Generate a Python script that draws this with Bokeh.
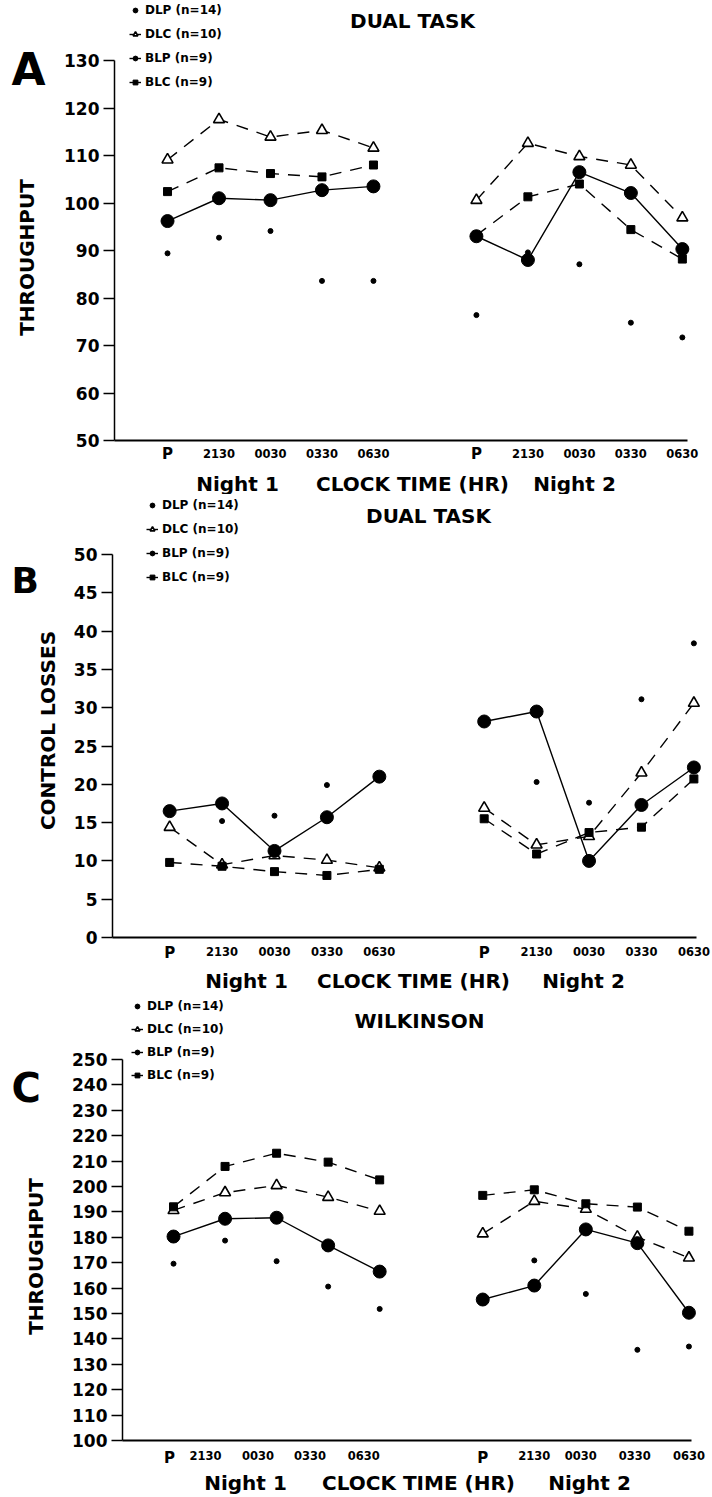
import math
from bokeh.plotting import figure
from bokeh.layouts import column
from bokeh.models import Range1d, FixedTicker, Label, Legend, LegendItem, LinearAxis
from bokeh.embed import file_html
from bokeh.resources import INLINE

NAN = float("nan")

# ---------------- data ----------------
TIME_LABELS = ["P", "2130", "0030", "0330", "0630"]
NIGHT_LABELS = ["Night 1", "CLOCK TIME (HR)", "Night 2"]
X_POS = [0, 1, 2, 3, 4, 6, 7, 8, 9, 10]  # session slots, 5 = gap between nights
SERIES = ["DLP (n=14)", "DLC (n=10)", "BLP (n=9)", "BLC (n=9)"]

A_DLP = [89.4, 92.7, 94.1, 83.6, 83.6, 76.4, 89.6, 87.1, 74.8, 71.7]
A_DLC = [109.1, 117.6, 113.9, 115.3, 111.6, 100.6, 112.6, 109.8, 108.0, 96.9]
A_BLP = [96.2, 101.0, 100.6, 102.7, 103.5, 93.0, 88.0, 106.5, 102.1, 90.3]
A_BLC = [102.4, 107.4, 106.2, 105.5, 108.0, 93.2, 101.3, 104.0, 94.4, 88.2]

B_DLP = [16.8, 15.2, 15.9, 19.9, 21.3, 28.4, 20.3, 17.6, 31.1, 38.4]
B_DLC = [14.4, 9.5, 10.7, 10.1, 9.1, 16.9, 12.1, 13.2, 21.5, 30.6]
B_BLP = [16.5, 17.5, 11.3, 15.7, 21.0, 28.2, 29.5, 10.0, 17.3, 22.2]
B_BLC = [9.8, 9.3, 8.6, 8.1, 8.9, 15.5, 10.9, 13.7, 14.4, 20.7]

C_DLP = [169.6, 178.7, 170.6, 160.6, 151.8, 155.3, 170.9, 157.7, 135.7, 137.0]
C_DLC = [190.6, 197.6, 200.4, 195.8, 190.3, 181.4, 194.2, 191.1, 180.1, 171.9]
C_BLP = [180.3, 187.3, 187.7, 176.8, 166.5, 155.5, 161.0, 183.1, 177.7, 150.3]
C_BLC = [192.0, 207.9, 213.1, 209.6, 202.6, 196.5, 198.7, 193.2, 191.9, 182.4]

FONT = "DejaVu Sans"
W = 712


def broken(vals):
    return vals[:5] + [NAN] + vals[5:]


def make_panel(cfg):
    fr = cfg["frame"]
    ft = cfg["fig_top"]
    H = cfg["height"]
    ax0, ax1 = cfg["xr"]
    ay0, ay1 = cfg["yr"]
    sx = (fr["right"] - fr["left"]) / (ax1 - ax0)
    sy = (fr["bottom"] - fr["top"]) / (ay1 - ay0)
    xs = ax0 - fr["left"] / sx
    xe = xs + W / sx
    ye = ay1 + (fr["top"] - ft) / sy
    ys = ye - H / sy

    def X(px):
        return xs + px / sx

    def Y(py):
        return ye - (py - ft) / sy

    p = figure(width=W, height=H, x_range=Range1d(xs, xe), y_range=Range1d(ys, ye),
               x_axis_location=None, y_axis_location=None, min_border=0,
               output_backend="svg", toolbar_location=None)
    p.title.visible = False
    p.outline_line_color = None
    p.xgrid.visible = False
    p.ygrid.visible = False
    p.background_fill_color = "white"
    p.border_fill_color = "white"

    dlp, dlc, blp, blc = cfg["data"]
    xl = broken(X_POS)
    dash = "12 9"
    l_dlc = p.line(xl, broken(dlc), line_color="black", line_width=1.4, line_dash=dash)
    l_blc = p.line(xl, broken(blc), line_color="black", line_width=1.4, line_dash=dash)
    l_blp = p.line(xl, broken(blp), line_color="black", line_width=1.4)
    s_dlc = p.scatter(X_POS, dlc, marker="triangle", size=11, fill_color="white",
                      line_color="black", line_width=1.6)
    s_blc = p.scatter(X_POS, blc, marker="square", size=8, fill_color="black",
                      line_color="black")
    s_blp = p.scatter(X_POS, blp, marker="circle", size=13, fill_color="black",
                      line_color="black")
    s_dlp = p.scatter(X_POS, dlp, marker="circle", size=5, fill_color="black",
                      line_color="black")

    # y axis
    ya = LinearAxis(fixed_location=ax0, bounds=(ay0, ay1),
                    ticker=FixedTicker(ticks=cfg["yticks"]))
    ya.major_label_text_font = FONT
    ya.major_label_text_font_style = "bold"
    ya.major_label_text_font_size = "17px"
    ya.major_label_text_color = "black"
    ya.major_tick_out = 11
    ya.major_tick_in = 0
    ya.minor_tick_out = 0
    ya.minor_tick_in = 0
    ya.major_label_standoff = 4
    ya.axis_line_width = 1.5
    ya.major_tick_line_width = 1.5
    p.add_layout(ya, "left")

    # x axis
    tick_pos = cfg["xtick_pos"]
    nonp = [(t, lab) for t, lab in zip(tick_pos, TIME_LABELS * 2) if lab != "P"]
    xa = LinearAxis(fixed_location=ay0, bounds=(ax0, ax1),
                    ticker=FixedTicker(ticks=[t for t, _ in nonp]))
    xa.major_label_overrides = {t: lab for t, lab in nonp}
    xa.major_label_text_font = FONT
    xa.major_label_text_font_style = "bold"
    xa.major_label_text_font_size = "11.5px"
    xa.major_label_text_color = "black"
    xa.major_tick_out = 0
    xa.major_tick_in = 0
    xa.minor_tick_out = 0
    xa.minor_tick_in = 0
    xa.major_label_standoff = cfg["xlabel_standoff"]
    xa.axis_line_width = 2
    p.add_layout(xa, "below")

    def txt(x, y, text, size, align="center", angle=0.0):
        lab = Label(x=x, y=y, text=text, angle=angle)
        lab.text_font = FONT
        lab.text_font_style = "bold"
        lab.text_font_size = f"{size}px"
        lab.text_align = align
        lab.text_baseline = "middle"
        lab.text_color = "black"
        p.add_layout(lab)

    # P tick labels (larger than the clock-time labels)
    for t, lab in zip(tick_pos, TIME_LABELS * 2):
        if lab == "P":
            txt(t, Y(cfg["p_mid"]), lab, 15)

    lx, ly, lsize = cfg["letter"]
    txt(X(lx), Y(ly), cfg["letter_text"], lsize, align="left")
    tx, ty = cfg["title_pos"]
    txt(X(tx), Y(ty), cfg["title"], 20)
    for nx, text in zip(cfg["night_x"], NIGHT_LABELS):
        txt(X(nx), Y(cfg["night_mid"]), text, 20)
    yx, yy = cfg["ylabel_pos"]
    txt(X(yx), Y(yy), cfg["ylabel"], 20, angle=math.pi / 2)

    gx, gbottom, gspace = cfg["legend"]
    legend = Legend(items=[
        LegendItem(label=SERIES[0], renderers=[s_dlp]),
        LegendItem(label=SERIES[1], renderers=[l_dlc, s_dlc]),
        LegendItem(label=SERIES[2], renderers=[l_blp, s_blp]),
        LegendItem(label=SERIES[3], renderers=[l_blc, s_blc]),
    ], location=(gx, ft + H - gbottom))
    legend.padding = 0
    legend.margin = 0
    legend.spacing = gspace
    legend.glyph_height = 12
    legend.glyph_width = 12
    legend.label_height = 12
    legend.label_standoff = 4
    legend.label_text_font = FONT
    legend.label_text_font_style = "bold"
    legend.label_text_font_size = "12px"
    legend.label_text_color = "black"
    legend.border_line_color = None
    legend.background_fill_alpha = 0
    p.add_layout(legend)
    return p


panels = [
    dict(fig_top=0, height=494,
         frame=dict(left=114, right=687, top=60, bottom=440),
         xr=(-1.03, 10.1), yr=(50, 130), yticks=list(range(50, 131, 10)),
         data=(A_DLP, A_DLC, A_BLP, A_BLC), ylabel="THROUGHPUT", ylabel_pos=(26, 257),
         xtick_pos=X_POS, xlabel_standoff=8, p_mid=453,
         letter=(11, 69, 44), letter_text="A", title="DUAL TASK", title_pos=(412, 20),
         night_x=(237, 412, 574), night_mid=483, legend=(129, 89, 10)),
    dict(fig_top=494, height=498,
         frame=dict(left=112, right=696, top=554, bottom=937),
         xr=(-1.09, 10.05), yr=(0, 50), yticks=list(range(0, 51, 5)),
         data=(B_DLP, B_DLC, B_BLP, B_BLC), ylabel="CONTROL LOSSES", ylabel_pos=(47, 730),
         xtick_pos=X_POS, xlabel_standoff=9, p_mid=952,
         letter=(11, 580, 36), letter_text="B", title="DUAL TASK", title_pos=(428, 515),
         night_x=(246, 413, 583), night_mid=980, legend=(146, 584, 10)),
    dict(fig_top=992, height=503,
         frame=dict(left=122, right=691, top=1059, bottom=1440),
         xr=(-0.99, 10.05), yr=(100, 250), yticks=list(range(100, 251, 10)),
         data=(C_DLP, C_DLC, C_BLP, C_BLC), ylabel="THROUGHPUT", ylabel_pos=(35, 1256),
         xtick_pos=[-0.08, 0.62, 1.64, 2.65, 3.69, 6, 7, 7.9, 8.95, 10],
         xlabel_standoff=10, p_mid=1457,
         letter=(11, 1087, 40), letter_text="C", title="WILKINSON", title_pos=(419, 1020),
         night_x=(245, 418, 589), night_mid=1482, legend=(131, 1082, 9)),
]

figs = [make_panel(c) for c in panels]
layout = column(*figs, spacing=0)
open("out.html", "w").write(file_html(layout, INLINE))
